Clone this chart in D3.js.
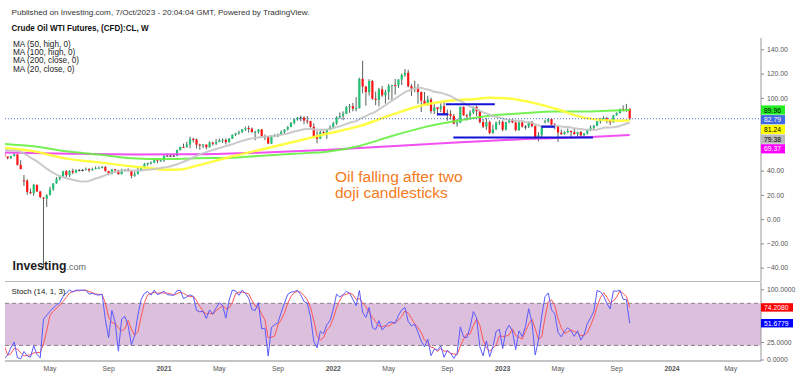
<!DOCTYPE html>
<html>
<head>
<meta charset="utf-8">
<script src="https://cdn.jsdelivr.net/npm/d3@7"></script>
<style>
  body { margin: 0; background: #fff; }
  text { font-family: Arial, "Liberation Sans", sans-serif; }
</style>
</head>
<body>
<div id="container"></div>
<script>
// weekly candles, first row is the week of 2019-09-16 (the first 19 weeks are off screen, used by MA20 / Stoch)
var startWeek = "2019-09-16";
var opens = [61.0, 58.09, 55.91, 52.81, 54.7, 53.78, 56.66, 56.2, 57.24, 57.72, 57.77, 55.17, 59.2, 60.07, 60.44, 61.72, 63.05, 59.04, 58.54,
  54.19, 51.56, 50.32, 52.05, 53.38, 44.76, 32.0, 31.73, 22.43, 21.51, 28.34, 22.76, 17.73, 16.94, 19.78, 24.74, 29.43, 33.25, 35.49, 39.55,
  36.26, 39.75, 38.49, 40.65, 40.55, 40.59, 41.29, 40.27, 41.22, 42.01, 42.34, 42.97, 39.77, 37.33, 41.11, 40.25, 37.05, 40.6, 40.88, 39.85,
  35.79, 37.14, 40.13, 42.42, 45.53, 46.26, 46.57, 49.1, 48.23, 48.52, 52.24, 52.36, 52.27, 52.2, 56.85, 59.47, 59.24, 61.5, 66.09, 65.61,
  61.42, 60.97, 61.45, 59.32, 63.13, 62.14, 63.58, 64.9, 65.37, 63.58, 66.32, 69.62, 70.91, 71.64, 74.05, 75.16, 74.56, 71.81, 72.07, 73.95,
  68.28, 68.44, 62.32, 68.74, 69.29, 69.72, 71.97, 73.98, 75.88, 79.35, 82.28, 83.76, 83.57, 81.27, 80.79, 76.1, 68.15, 66.26, 71.67, 70.86,
  73.79, 75.21, 78.9, 83.82, 85.14, 86.82, 92.31, 93.1, 91.07, 91.59, 115.68, 109.33, 104.7, 113.9, 99.27, 98.26, 106.95, 102.07, 104.69, 109.77,
  110.49, 110.28, 115.07, 118.87, 120.67, 109.56, 107.62, 108.43, 104.79, 97.59, 94.7, 98.62, 89.01, 92.09, 90.77, 93.06, 86.87, 86.79, 85.11,
  78.74, 79.49, 92.64, 85.61, 85.05, 87.9, 92.61, 88.96, 80.08, 76.28, 79.98, 71.02, 74.29, 79.56, 80.26, 73.77, 79.86, 81.64, 79.68, 73.39,
  79.72, 76.34, 76.32, 79.68, 76.68, 66.74, 69.26, 80.1, 80.7, 82.52, 77.87, 76.78, 71.34, 70.04, 71.69, 72.67, 71.74, 70.17, 71.78, 69.16,
  70.64, 73.86, 75.42, 77.07, 80.58, 82.82, 83.19, 81.25, 79.83, 85.55, 87.51, 90.77, 89.97, 90.85];
var highs = [63.38, 58.79, 56.4, 54.92, 54.84, 56.92, 56.9, 57.88, 58.0, 58.62, 58.8, 59.85, 60.27, 61.27, 62.34, 64.09, 65.65, 59.5, 59.0,
  54.94, 51.79, 52.22, 54.47, 53.78, 48.66, 36.42, 32.86, 25.24, 29.13, 28.36, 23.44, 18.26, 20.48, 26.74, 29.62, 34.66, 35.73, 39.77, 40.44,
  40.51, 41.63, 40.96, 41.23, 41.36, 42.51, 42.08, 42.45, 43.52, 43.41, 43.78, 43.88, 39.77, 41.38, 41.48, 40.8, 41.52, 41.26, 41.9, 39.85,
  39.45, 42.46, 42.77, 46.26, 46.68, 47.74, 49.28, 49.43, 48.96, 52.75, 53.93, 53.55, 53.53, 57.29, 59.82, 62.26, 63.81, 67.98, 67.13, 66.45,
  62.27, 61.87, 61.55, 64.2, 63.82, 66.11, 66.35, 66.52, 66.59, 67.01, 69.76, 71.24, 72.99, 74.25, 76.22, 76.98, 75.52, 72.9, 74.24, 74.05,
  69.73, 68.59, 69.13, 70.05, 70.56, 73.07, 74.1, 76.67, 80.11, 82.96, 84.07, 85.41, 84.88, 85.0, 81.23, 79.04, 72.89, 73.34, 72.94, 74.04,
  77.36, 80.24, 84.78, 87.91, 88.84, 93.17, 94.94, 95.82, 100.54, 116.57, 130.5, 109.72, 115.4, 114.8, 105.18, 108.16, 109.81, 106.53, 111.37, 110.7,
  115.62, 115.34, 119.98, 123.68, 123.18, 111.36, 114.05, 111.45, 105.23, 104.86, 101.77, 100.21, 94.83, 92.45, 95.49, 97.65, 90.35, 89.84, 86.66,
  82.71, 92.84, 92.8, 86.87, 89.85, 92.83, 93.74, 89.4, 82.54, 83.34, 81.2, 77.9, 80.46, 81.5, 81.5, 80.25, 82.38, 82.66, 80.6, 80.48,
  80.75, 77.5, 80.49, 80.93, 77.36, 71.67, 75.72, 81.81, 83.53, 83.23, 79.18, 76.92, 73.92, 72.42, 74.73, 73.2, 75.06, 72.06, 72.72, 70.9,
  74.13, 77.3, 77.64, 80.88, 83.53, 84.89, 84.34, 81.98, 86.0, 88.08, 91.13, 93.74, 95.03, 91.39];
var lows = [57.5, 55.34, 50.99, 51.96, 52.3, 52.9, 53.71, 55.88, 56.05, 55.7, 55.1, 55.0, 58.2, 59.7, 60.4, 60.63, 58.72, 57.36, 53.68,
  51.3, 49.31, 49.63, 51.68, 44.18, 41.05, 27.34, 20.06, 20.52, 19.27, 22.63, 17.31, -40.32, 10.07, 19.7, 23.32, 29.3, 31.93, 34.36, 34.38,
  34.66, 37.08, 37.95, 39.36, 39.34, 40.3, 38.72, 40.0, 41.06, 41.5, 41.8, 39.07, 36.13, 36.91, 38.62, 36.63, 36.9, 39.24, 39.26, 33.64,
  34.92, 36.9, 39.6, 42.2, 43.92, 45.1, 46.15, 46.16, 47.14, 47.18, 51.83, 51.46, 51.43, 51.87, 56.63, 58.61, 59.1, 58.4, 63.11, 58.28,
  57.25, 58.49, 57.63, 59.02, 60.64, 61.11, 63.44, 62.8, 61.56, 62.82, 66.25, 68.45, 69.62, 71.13, 72.64, 71.3, 71.3, 65.01, 70.56, 67.56,
  65.15, 61.74, 62.09, 67.57, 67.54, 69.6, 69.66, 73.1, 75.81, 78.32, 81.16, 80.55, 78.25, 78.54, 75.48, 67.4, 62.43, 66.13, 69.51, 66.12,
  73.28, 74.27, 77.72, 82.86, 81.55, 86.55, 87.54, 88.86, 88.8, 91.17, 103.7, 93.53, 101.95, 98.44, 93.93, 92.93, 100.8, 95.28, 98.2, 98.02,
  102.6, 108.24, 110.55, 117.3, 108.7, 101.53, 104.56, 95.1, 88.33, 94.11, 93.71, 87.01, 86.56, 85.73, 88.17, 85.7, 81.2, 82.14, 78.15,
  76.25, 79.17, 85.2, 81.3, 82.01, 86.51, 84.9, 78.88, 75.08, 73.6, 70.08, 70.3, 73.38, 77.57, 72.46, 73.11, 79.04, 79.12, 72.5, 72.7,
  75.5, 73.8, 75.11, 75.72, 65.65, 64.12, 66.82, 79.0, 79.52, 76.86, 74.0, 63.64, 69.39, 69.49, 70.7, 67.03, 69.5, 66.8, 67.91, 67.04,
  69.7, 72.52, 73.84, 76.55, 78.75, 81.75, 79.11, 77.58, 79.6, 85.19, 87.0, 88.83, 88.51, 81.5];
var closes = [58.09, 55.91, 52.81, 54.7, 53.78, 56.66, 56.2, 57.24, 57.72, 57.77, 55.17, 59.2, 60.07, 60.44, 61.72, 63.05, 59.04, 58.54, 54.19,
  51.56, 50.32, 52.05, 53.38, 44.76, 41.28, 31.73, 22.43, 21.51, 28.34, 22.76, 18.27, 16.94, 19.78, 24.74, 29.43, 33.25, 35.49, 39.55, 36.26,
  39.75, 38.49, 40.65, 40.55, 40.59, 41.29, 40.27, 41.22, 42.01, 42.34, 42.97, 39.77, 37.33, 41.11, 40.25, 37.05, 40.6, 40.88, 39.85, 35.79,
  37.14, 40.13, 42.42, 45.53, 46.26, 46.57, 49.1, 48.23, 48.52, 52.24, 52.36, 52.27, 52.2, 56.85, 59.47, 59.24, 61.5, 66.09, 65.61, 61.42,
  60.97, 61.45, 59.32, 63.13, 62.14, 63.58, 64.9, 65.37, 63.58, 66.32, 69.62, 70.91, 71.64, 74.05, 75.16, 74.56, 71.81, 72.07, 73.95, 68.28,
  68.44, 62.32, 68.74, 69.29, 69.72, 71.97, 73.98, 75.88, 79.35, 82.28, 83.76, 83.57, 81.27, 80.79, 76.1, 68.15, 66.26, 71.67, 70.86, 73.79,
  75.21, 78.9, 83.82, 85.14, 86.82, 92.31, 93.1, 91.07, 91.59, 115.68, 109.33, 104.7, 113.9, 99.27, 98.26, 106.95, 102.07, 104.69, 109.77, 110.49,
  110.28, 115.07, 118.87, 120.67, 109.56, 107.62, 108.43, 104.79, 97.59, 94.7, 98.62, 89.01, 92.09, 90.77, 93.06, 86.87, 86.79, 85.11, 78.74,
  79.49, 92.64, 85.61, 85.05, 87.9, 92.61, 88.96, 80.08, 76.28, 79.98, 71.02, 74.29, 79.56, 80.26, 73.77, 79.86, 81.64, 79.68, 73.39, 79.72,
  76.34, 76.32, 79.68, 76.68, 66.74, 69.26, 75.67, 80.7, 82.52, 77.87, 76.78, 71.34, 70.04, 71.69, 72.67, 71.74, 70.17, 71.78, 69.16, 70.64,
  73.86, 75.42, 77.07, 80.58, 82.82, 83.19, 81.25, 79.83, 85.55, 87.51, 90.77, 89.97, 90.85, 82.79];

// longer moving averages
var ma50Dates = ["2020-01-27", "2020-03-30", "2020-06-08", "2020-08-17", "2020-10-26", "2020-12-07", "2021-01-04", "2021-02-08", "2021-03-15",
  "2021-05-24", "2021-08-02", "2021-10-11", "2021-12-20", "2022-02-28", "2022-05-09", "2022-07-18", "2022-09-26", "2022-10-31", "2022-12-05",
  "2023-01-09", "2023-02-13", "2023-04-24", "2023-07-03", "2023-09-11", "2023-10-02"];
var ma50High = [58.8, 55.9, 49.9, 46.8, 43.6, 42.0, 40.76, 40.98, 44.09, 51.06, 57.43, 63.82, 70.36, 76.65, 86.16, 94.27, 98.21, 98.9, 100.06,
  99.7, 97.82, 91.22, 83.06, 81.13, 81.24];
var ma100Dates = ["2020-01-27", "2020-03-30", "2020-06-08", "2020-08-17", "2020-10-26", "2021-01-04", "2021-03-15", "2021-05-24", "2021-08-02",
  "2021-10-11", "2021-12-20", "2022-02-28", "2022-05-09", "2022-07-18", "2022-09-26", "2022-12-05", "2023-02-13", "2023-04-24", "2023-07-03",
  "2023-09-11", "2023-10-02"];
var ma100High = [62.0, 60.0, 56.0, 53.2, 50.3, 49.5, 50.2, 50.5, 52.3, 54.0, 55.56, 60.37, 68.61, 75.85, 81.02, 85.21, 87.24, 88.69, 88.67,
  89.67, 89.96];
var ma200Dates = ["2020-01-27", "2020-06-15", "2020-11-02", "2021-03-22", "2021-08-09", "2021-12-27", "2022-05-16", "2022-10-03", "2023-02-20",
  "2023-07-10", "2023-10-02"];
var ma200Close = [55.0, 54.0, 53.4, 53.6, 55.0, 57.2, 60.3, 63.3, 66.0, 67.8, 69.37];

// blue range lines drawn on the chart
var boxStarts = ["2022-09-02", "2022-08-14", "2023-03-26", "2022-09-18"];
var boxEnds = ["2022-12-16", "2022-09-07", "2023-04-24", "2023-07-15"];
var boxLevels = [94.7, 86.4, 76.2, 67.3];

var xTickDates = ["2020-05-04", "2020-09-07", "2021-01-04", "2021-05-03", "2021-09-06", "2022-01-03", "2022-05-02", "2022-09-05",
  "2023-01-02", "2023-05-01", "2023-09-04", "2024-01-01", "2024-05-06"];
var xTickLabels = ["May", "Sep", "2021", "May", "Sep", "2022", "May", "Sep", "2023", "May", "Sep", "2024", "May"];
var priceTicks = [140, 120, 100, 40, 20, 0, -20, -40];
var stochTicks = [100, 25, 0];
var maLegend = ["MA (50, high, 0)", "MA (100, high, 0)", "MA (200, close, 0)", "MA (20, close, 0)"];

var w = 800, h = 376;
var parse = d3.utcParse("%Y-%m-%d");

var svg = d3.select("#container").append("svg")
  .attr("width", w)
  .attr("height", h);

var x = d3.scaleUtc()
  .domain([parse("2020-05-04"), parse("2024-01-01")])
  .range([50, 672]);
var y = d3.scaleLinear().domain([-40, 140]).range([267.7, 49.3]);
var yS = d3.scaleLinear().domain([0, 100]).range([359.5, 289.3]);

var start = parse(startWeek);
var candles = closes.map(function (c, i) {
  return { date: d3.utcDay.offset(start, 7 * i), o: opens[i], h: highs[i], l: lows[i], c: c };
});

// MA 20 on closes
var ma20 = [];
candles.forEach(function (d, i) {
  if (i >= 19) ma20.push({ date: d.date, v: d3.mean(closes.slice(i - 19, i + 1)) });
});

// Stoch (14, 1, 3)
var kLine = candles.map(function (d, i) {
  if (i < 13) return null;
  var hh = d3.max(highs.slice(i - 13, i + 1)), ll = d3.min(lows.slice(i - 13, i + 1));
  return { date: d.date, v: 100 * (d.c - ll) / (hh - ll) };
});
var dLine = kLine.map(function (d, i) {
  if (i < 15) return null;
  return { date: d.date, v: (kLine[i - 2].v + kLine[i - 1].v + d.v) / 3 };
});
kLine = kLine.filter(Boolean);
dLine = dLine.filter(Boolean);

function pairs(dates, vals) {
  return dates.map(function (s, i) { return { date: parse(s), v: vals[i] }; });
}

var defs = svg.append("defs");
defs.append("clipPath").attr("id", "clipMain").append("rect")
  .attr("x", 5).attr("y", 38).attr("width", 756).attr("height", 243);
defs.append("clipPath").attr("id", "clipStoch").append("rect")
  .attr("x", 5).attr("y", 282).attr("width", 756).attr("height", 79);

// header texts
svg.append("text").attr("x", 11.5).attr("y", 14.5)
  .attr("font-size", 8).attr("fill", "#333")
  .attr("textLength", 298).attr("lengthAdjust", "spacingAndGlyphs")
  .text("Published on Investing.com, 7/Oct/2023 - 20:04:04 GMT, Powered by TradingView.");
svg.append("text").attr("x", 11.5).attr("y", 30.5)
  .attr("font-size", 8.5).attr("font-weight", "bold").attr("fill", "#111")
  .attr("textLength", 137).attr("lengthAdjust", "spacingAndGlyphs")
  .text("Crude Oil WTI Futures, (CFD):CL, W");
svg.selectAll(".legend")
  .data(maLegend)
  .enter().append("text")
  .attr("class", "legend")
  .attr("x", 13)
  .attr("y", function (d, i) { return 46.5 + i * 8.35; })
  .attr("font-size", 8.2).attr("fill", "#222")
  .text(function (d) { return d; });

// main panel
var main = svg.append("g").attr("clip-path", "url(#clipMain)");

var line = d3.line()
  .x(function (d) { return x(d.date); })
  .y(function (d) { return y(d.v); });
var smooth = d3.line()
  .curve(d3.curveMonotoneX)
  .x(function (d) { return x(d.date); })
  .y(function (d) { return y(d.v); });

var upColor = "#22c275", downColor = "#ff1414";
var visible = candles.filter(function (d) { return x(d.date) > 0; });

var cg = main.append("g");
cg.selectAll("line")
  .data(visible)
  .enter().append("line")
  .attr("x1", function (d) { return x(d.date); })
  .attr("x2", function (d) { return x(d.date); })
  .attr("y1", function (d) { return y(d.h); })
  .attr("y2", function (d) { return y(d.l); })
  .attr("stroke", "#56625b")
  .attr("stroke-width", 1);
cg.selectAll("rect")
  .data(visible)
  .enter().append("rect")
  .attr("x", function (d) { return x(d.date) - 1.1; })
  .attr("width", 2.2)
  .attr("y", function (d) { return y(Math.max(d.o, d.c)); })
  .attr("height", function (d) { return Math.max(1, Math.abs(y(d.o) - y(d.c))); })
  .attr("fill", function (d) {
    if (Math.abs(d.c - d.o) < 0.2) return "#333";
    return d.c >= d.o ? upColor : downColor;
  });

var maSeries = [
  { data: pairs(ma200Dates, ma200Close), color: "#f03cf0", width: 2, path: smooth },
  { data: pairs(ma100Dates, ma100High), color: "#66f040", width: 2, path: smooth },
  { data: pairs(ma50Dates, ma50High), color: "#ffff30", width: 2.5, path: smooth },
  { data: ma20, color: "#c4c4c4", width: 2, path: line }
];
maSeries.forEach(function (s) {
  main.append("path")
    .datum(s.data)
    .attr("fill", "none")
    .attr("stroke", s.color)
    .attr("stroke-width", s.width)
    .attr("stroke-linejoin", "round")
    .attr("opacity", 0.9)
    .attr("d", s.path);
});

// blue range lines
main.selectAll(".box")
  .data(boxLevels)
  .enter().append("line")
  .attr("class", "box")
  .attr("x1", function (d, i) { return x(parse(boxStarts[i])); })
  .attr("x2", function (d, i) { return x(parse(boxEnds[i])); })
  .attr("y1", function (d) { return y(d); })
  .attr("y2", function (d) { return y(d); })
  .attr("stroke", "#1212d8")
  .attr("stroke-width", 2.2);

// last price dotted line
var last = candles[candles.length - 1];
svg.append("line")
  .attr("x1", 5).attr("x2", 761)
  .attr("y1", y(last.c)).attr("y2", y(last.c))
  .attr("stroke", "#4a6ee0")
  .attr("stroke-width", 1)
  .attr("stroke-dasharray", "1,2");

// annotation
var note = svg.append("text").attr("fill", "#f47a20").attr("font-size", 15.5);
note.append("tspan").attr("x", 335).attr("y", 182).text("Oil falling after two");
note.append("tspan").attr("x", 335).attr("y", 197.5).text("doji candlesticks");

// logo
var logo = svg.append("text").attr("x", 12.5).attr("y", 270);
logo.append("tspan").attr("font-size", 12.3).attr("font-weight", "bold").attr("fill", "#1e1e1e").text("Investing");
logo.append("tspan").attr("font-size", 9).attr("fill", "#666").text(".com");

// price axis
var axisR = svg.append("g")
  .attr("transform", "translate(761,0)")
  .call(d3.axisRight(y).tickValues(priceTicks).tickSize(3).tickFormat(d3.format(".2f")));
axisR.select(".domain").remove();
axisR.selectAll("text").attr("font-size", 6.8).attr("fill", "#555").attr("font-family", "Arial, 'Liberation Sans', sans-serif");
axisR.selectAll("line").attr("stroke", "#888");
svg.append("line").attr("x1", 761).attr("x2", 761).attr("y1", 38).attr("y2", 281).attr("stroke", "#999");

// value labels on the price axis
var tags = [
  { v: ma100High[ma100High.length - 1], bg: "#22ee22", fg: "#000" },
  { v: last.c, bg: "#4169e1", fg: "#fff" },
  { v: ma50High[ma50High.length - 1], bg: "#ffff00", fg: "#000" },
  { v: ma20[ma20.length - 1].v, bg: "#b8b8b8", fg: "#000" },
  { v: ma200Close[ma200Close.length - 1], bg: "#ff00ff", fg: "#fff" }
];
var prevY = -100;
tags.forEach(function (t) {
  t.y = Math.max(y(t.v), prevY + 9.7);
  prevY = t.y;
});
var tg = svg.selectAll(".tag").data(tags).enter().append("g").attr("class", "tag");
tg.append("rect")
  .attr("x", 761).attr("width", 24).attr("height", 9.2)
  .attr("y", function (d) { return d.y - 4.6; })
  .attr("fill", function (d) { return d.bg; });
tg.append("text")
  .attr("x", 764).attr("y", function (d) { return d.y + 2.5; })
  .attr("font-size", 6.8).attr("fill", function (d) { return d.fg; })
  .text(function (d) { return d.v.toFixed(2); });

// separator between panels
svg.append("line").attr("x1", 5).attr("x2", 761).attr("y1", 281.5).attr("y2", 281.5).attr("stroke", "#bbb");

// stochastic panel
var st = svg.append("g").attr("clip-path", "url(#clipStoch)");
st.append("rect")
  .attr("x", 5).attr("width", 756)
  .attr("y", yS(80)).attr("height", yS(20) - yS(80))
  .attr("fill", "#dcbfdc");
[80, 20].forEach(function (v) {
  st.append("line")
    .attr("x1", 5).attr("x2", 761)
    .attr("y1", yS(v)).attr("y2", yS(v))
    .attr("stroke", "#8a7f8a").attr("stroke-dasharray", "4,3");
});
var sLine = d3.line()
  .x(function (d) { return x(d.date); })
  .y(function (d) { return yS(d.v); });
st.append("path").datum(dLine).attr("fill", "none").attr("stroke", "#ff5555").attr("stroke-width", 1).attr("d", sLine);
st.append("path").datum(kLine).attr("fill", "none").attr("stroke", "#5a5aff").attr("stroke-width", 1).attr("d", sLine);

svg.append("text").attr("x", 11.5).attr("y", 294).attr("font-size", 7.9).attr("fill", "#222").text("Stoch (14, 1, 3)");

var axisS = svg.append("g")
  .attr("transform", "translate(761,0)")
  .call(d3.axisRight(yS).tickValues(stochTicks).tickSize(3).tickFormat(d3.format(".4f")));
axisS.select(".domain").remove();
axisS.selectAll("text").attr("font-size", 6.8).attr("fill", "#555").attr("font-family", "Arial, 'Liberation Sans', sans-serif");
axisS.selectAll("line").attr("stroke", "#888");
svg.append("line").attr("x1", 761).attr("x2", 761).attr("y1", 282).attr("y2", 361).attr("stroke", "#999");

var stTags = [
  { v: dLine[dLine.length - 1].v, bg: "#ff0000" },
  { v: kLine[kLine.length - 1].v, bg: "#0000ff" }
];
var sg = svg.selectAll(".stag").data(stTags).enter().append("g").attr("class", "stag");
sg.append("rect")
  .attr("x", 761).attr("width", 32).attr("height", 8.4)
  .attr("y", function (d) { return yS(d.v) - 4.2; })
  .attr("fill", function (d) { return d.bg; });
sg.append("text")
  .attr("x", 764).attr("y", function (d) { return yS(d.v) + 2.4; })
  .attr("font-size", 6.8).attr("fill", "#fff")
  .text(function (d) { return d.v.toFixed(4); });

// time axis
svg.append("line").attr("x1", 5).attr("x2", 761).attr("y1", 361).attr("y2", 361).attr("stroke", "#888");
svg.selectAll(".xl")
  .data(xTickDates)
  .enter().append("text")
  .attr("class", "xl")
  .attr("x", function (d) { return x(parse(d)); })
  .attr("y", 370.5)
  .attr("text-anchor", "middle")
  .attr("font-size", 6.8)
  .attr("fill", "#555")
  .attr("font-weight", function (d, i) { return /^\d+$/.test(xTickLabels[i]) ? "bold" : "normal"; })
  .text(function (d, i) { return xTickLabels[i]; });
</script>
</body>
</html>
